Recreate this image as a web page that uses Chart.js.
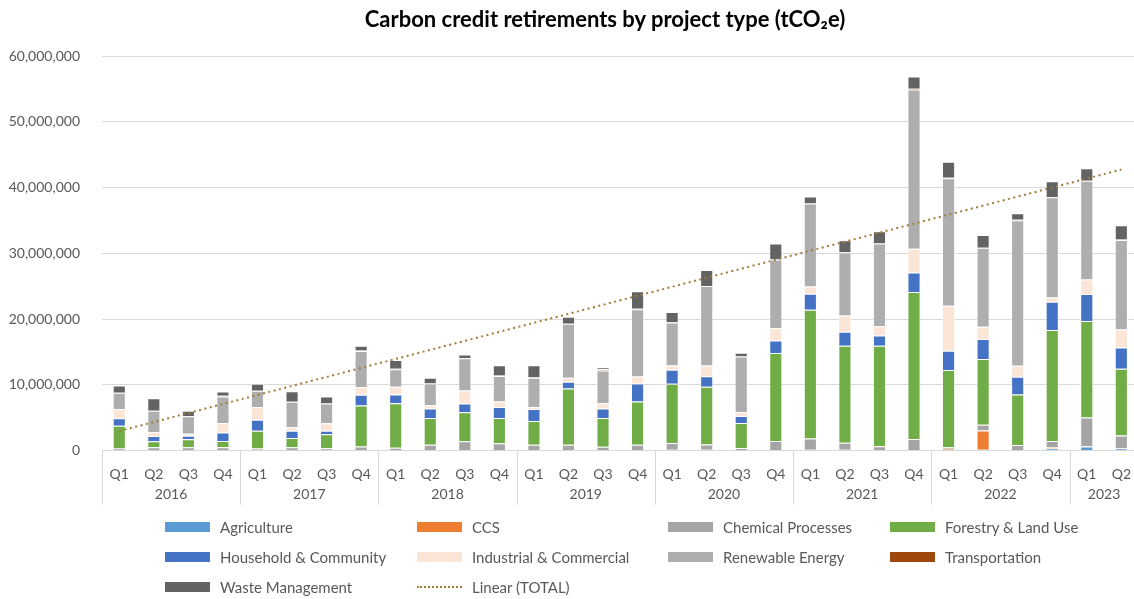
<!DOCTYPE html>
<html>
<head>
<meta charset="utf-8">
<script src="https://cdn.jsdelivr.net/npm/chart.js@4.4.1/dist/chart.umd.min.js"></script>
<style>
  html, body { margin: 0; padding: 0; background: #fff; overflow: hidden; }
  #wrap { position: relative; width: 1134px; height: 599px; overflow: hidden; }
  #chart { position: absolute; left: 0; top: 0; }
  #title { position: absolute; left: 605px; top: 7px; transform: translateX(-50%); white-space: nowrap;
           font-family: Lato, sans-serif; font-weight: bold; font-size: 22px; line-height: 24px; color: #000; }
  #legend { position: absolute; left: 0; top: 0; width: 1134px; height: 599px; font-family: Lato, sans-serif; font-size: 15px; color: #595959; }
  .item { position: absolute; display: flex; align-items: center; white-space: nowrap; height: 18px; }
  .swatch { width: 45px; height: 10px; margin-right: 10px; }
  .dots { width: 45px; height: 0; border-top: 2px dotted #A07C3B; margin-right: 10px; }
</style>
</head>
<body>
<div id="wrap">
  <canvas id="chart" width="1139" height="510"></canvas>
  <div id="title">Carbon credit retirements by project type (tCO₂e)</div>
  <div id="legend"></div>
</div>
<script>
// categories
const quarters = ['Q1','Q2','Q3','Q4','Q1','Q2','Q3','Q4','Q1','Q2','Q3','Q4','Q1','Q2','Q3','Q4',
                  'Q1','Q2','Q3','Q4','Q1','Q2','Q3','Q4','Q1','Q2','Q3','Q4','Q1','Q2'];
const years = ['2016','2016','2016','2016','2017','2017','2017','2017','2018','2018','2018','2018',
               '2019','2019','2019','2019','2020','2020','2020','2020','2021','2021','2021','2021',
               '2022','2022','2022','2022','2023','2023'];

// retirements per project type (tCO2e)
const agriculture = [30000,30000,30000,30000,30000,30000,30000,30000,30000,30000,30000,30000,30000,30000,30000,30000,
                     30000,30000,30000,60000,30000,30000,30000,60000,50000,100000,30000,300000,610000,300000];
const ccs = [0,0,0,0,0,0,0,0,0,0,0,0,0,0,0,0,
             80000,80000,0,0,80000,100000,0,0,200000,2940000,0,200000,50000,80000];
const chemical = [290000,470000,470000,470000,270000,470000,320000,570000,370000,830000,1390000,1090000,830000,830000,530000,830000,
                  1020000,800000,350000,1380000,1700000,1030000,600000,1700000,250000,860000,800000,960000,4350000,1920000];
const forestry = [3450000,910000,1220000,960000,2690000,1420000,2130000,6240000,6790000,4080000,4390000,3830000,3620000,8570000,4390000,6580000,
                  9040000,8780000,3810000,13400000,19590000,14780000,15290000,22330000,11750000,10030000,7700000,16860000,14680000,10130000];
const household = [1120000,810000,510000,1270000,1680000,1070000,510000,1630000,1330000,1430000,1330000,1680000,1840000,1020000,1430000,2760000,
                   2130000,1620000,1070000,1880000,2440000,2130000,1570000,2990000,2940000,3040000,2680000,4300000,4100000,3240000];
const industrial = [1420000,560000,300000,1420000,1930000,560000,1170000,1170000,1170000,510000,1990000,820000,310000,610000,820000,1070000,
                    610000,1620000,610000,1930000,1120000,2480000,1420000,3590000,6840000,1870000,1670000,660000,2230000,2730000];
const renewable = [2490000,3250000,2690000,4060000,2490000,3860000,3000000,5500000,2650000,3320000,4900000,3880000,4440000,8210000,4950000,10200000,
                   6550000,12080000,8430000,10410000,12590000,9570000,12560000,24250000,19390000,12000000,22130000,15240000,14990000,13620000];
const transportation = [0,0,0,100000,0,0,0,80000,80000,0,0,80000,80000,0,200000,100000,
                        80000,0,0,0,0,80000,0,100000,80000,0,80000,0,0,80000];
const waste = [1070000,1930000,810000,660000,1070000,1620000,1070000,720000,1350000,870000,560000,1550000,1810000,1070000,310000,2660000,
               1540000,2440000,560000,2440000,1070000,1790000,1870000,1870000,2400000,1920000,980000,2430000,1920000,2150000];

const seriesNames = ['Agriculture','CCS','Chemical Processes','Forestry & Land Use','Household & Community',
                     'Industrial & Commercial','Renewable Energy','Transportation','Waste Management'];
const seriesData = [agriculture, ccs, chemical, forestry, household, industrial, renewable, transportation, waste];
const seriesColors = ['#5B9BD5','#ED7D31','#A5A5A5','#70AD47','#4472C4','#FBE5D6','#AEAEAE','#9E480E','#636363'];
const trendColor = '#A07C3B';

const yTicks = [0, 10000000, 20000000, 30000000, 40000000, 50000000, 60000000];

// TOTAL per quarter and its linear trend (least squares, like Excel's trendline)
const totals = quarters.map((q, i) => seriesData.reduce((s, arr) => s + arr[i], 0));
function linearFit(values) {
    const n = values.length;
    let sx = 0, sy = 0, sxy = 0, sxx = 0;
    values.forEach((v, i) => { sx += i; sy += v; sxy += i * v; sxx += i * i; });
    const slope = (n * sxy - sx * sy) / (n * sxx - sx * sx);
    const icpt = (sy - slope * sx) / n;
    return values.map((v, i) => icpt + slope * i);
}

const datasets = seriesNames.map((name, i) => ({
    type: 'bar',
    label: name,
    data: seriesData[i],
    backgroundColor: seriesColors[i],
    borderColor: 'rgba(255,255,255,0.55)',
    borderWidth: 1,
    stack: 'types',
    barPercentage: 0.38,
    categoryPercentage: 1,
    order: 2
}));
datasets.push({
    type: 'line',
    label: 'Linear (TOTAL)',
    data: linearFit(totals),
    borderColor: trendColor,
    borderWidth: 2,
    borderDash: [2, 3.5],
    pointRadius: 0,
    fill: false,
    stack: 'trend',
    order: 1
});

// year row under the quarter labels, with separators between years
const yearRows = {
    id: 'yearRows',
    afterDraw(chart) {
        const ctx = chart.ctx;
        const x = chart.scales.x;
        const bottom = chart.chartArea.bottom;
        const step = x.getPixelForValue(1) - x.getPixelForValue(0);
        ctx.save();
        ctx.strokeStyle = '#d9d9d9';
        ctx.lineWidth = 1;
        ctx.fillStyle = '#595959';
        ctx.font = '14px Lato, sans-serif';
        ctx.textAlign = 'center';
        ctx.textBaseline = 'middle';
        let start = 0;
        for (let i = 1; i <= years.length; i++) {
            if (i === years.length || years[i] !== years[start]) {
                const left = x.getPixelForValue(start) - step / 2;
                const right = x.getPixelForValue(i - 1) + step / 2;
                [left, right].forEach(px => {
                    ctx.beginPath();
                    ctx.moveTo(Math.round(px) + 0.5, bottom);
                    ctx.lineTo(Math.round(px) + 0.5, bottom + 54);
                    ctx.stroke();
                });
                ctx.fillText(years[start], (left + right) / 2, bottom + 43.5);
                start = i;
            }
        }
        ctx.restore();
    }
};

const chart = new Chart(document.getElementById('chart'), {
    data: { labels: quarters, datasets: datasets },
    options: {
        responsive: false,
        animation: false,
        devicePixelRatio: 1,
        layout: { padding: { left: 0, right: 0, top: 56, bottom: 0 } },
        plugins: {
            legend: { display: false },
            tooltip: { enabled: false }
        },
        scales: {
            x: {
                stacked: true,
                offset: true,
                grid: { display: false },
                border: { display: true, color: '#d9d9d9', width: 1 },
                ticks: { color: '#595959', font: { family: 'Lato, sans-serif', size: 14 }, padding: 8, maxRotation: 0, autoSkip: false },
                afterFit(scale) { scale.height = 59.5; }
            },
            y: {
                stacked: true,
                min: 0,
                max: 60000000,
                afterBuildTicks(scale) { scale.ticks = yTicks.map(v => ({ value: v })); },
                grid: { color: '#d9d9d9', drawTicks: false },
                border: { display: false },
                ticks: {
                    color: '#595959',
                    font: { family: 'Lato, sans-serif', size: 14 },
                    padding: 22,
                    callback: v => v.toLocaleString('en-US')
                },
                afterFit(scale) { scale.width = 102; }
            }
        }
    },
    plugins: [yearRows]
});

// legend laid out in Excel-like columns
const legendCols = [165, 417, 668, 890];
const legendRows = [527, 557, 587];
const legendBox = document.getElementById('legend');
chart.data.datasets.forEach((ds, i) => {
    const item = document.createElement('div');
    item.className = 'item';
    item.style.left = legendCols[i % 4] + 'px';
    item.style.top = (legendRows[Math.floor(i / 4)] - 9) + 'px';
    const sw = document.createElement('span');
    if (ds.type === 'line') {
        sw.className = 'dots';
    } else {
        sw.className = 'swatch';
        sw.style.background = ds.backgroundColor;
    }
    const txt = document.createElement('span');
    txt.textContent = ds.label;
    item.appendChild(sw);
    item.appendChild(txt);
    legendBox.appendChild(item);
});
</script>
</body>
</html>
